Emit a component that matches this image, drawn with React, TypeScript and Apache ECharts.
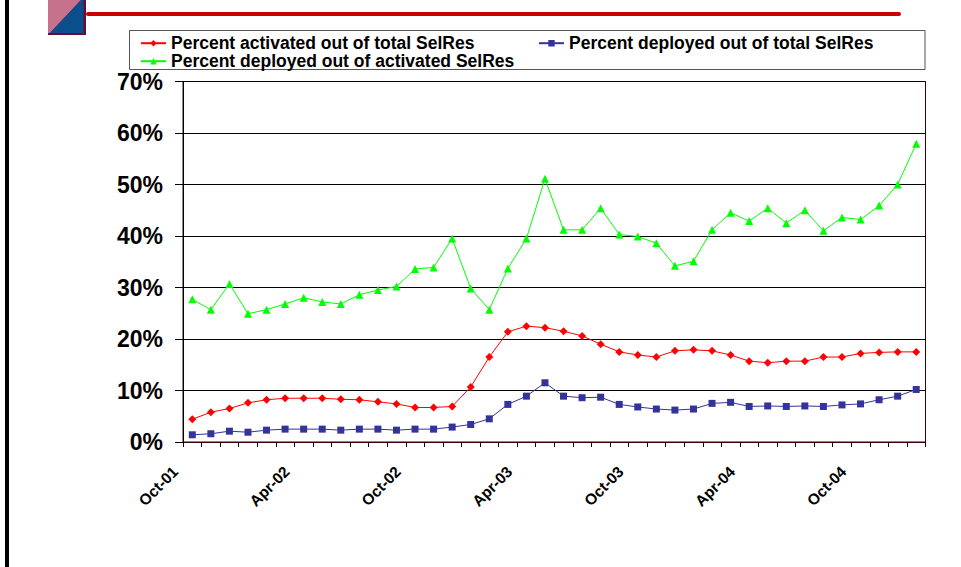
import React, { useEffect, useRef } from "react";
import * as echarts from "echarts";

const months = [
  "Oct-01", "Nov-01", "Dec-01", "Jan-02", "Feb-02", "Mar-02", "Apr-02", "May-02", "Jun-02", "Jul-02",
  "Aug-02", "Sep-02", "Oct-02", "Nov-02", "Dec-02", "Jan-03", "Feb-03", "Mar-03", "Apr-03", "May-03",
  "Jun-03", "Jul-03", "Aug-03", "Sep-03", "Oct-03", "Nov-03", "Dec-03", "Jan-04", "Feb-04", "Mar-04",
  "Apr-04", "May-04", "Jun-04", "Jul-04", "Aug-04", "Sep-04", "Oct-04", "Nov-04", "Dec-04", "Jan-05",
];

const activatedOfTotal = [
  4.4, 5.8, 6.5, 7.6, 8.2, 8.5, 8.5, 8.5, 8.3, 8.2,
  7.8, 7.4, 6.7, 6.7, 6.9, 10.7, 16.5, 21.4, 22.5, 22.2,
  21.5, 20.6, 19.0, 17.5, 16.9, 16.5, 17.7, 17.9, 17.7, 16.9,
  15.7, 15.4, 15.7, 15.7, 16.5, 16.5, 17.2, 17.4, 17.5, 17.5,
];

const deployedOfTotal = [
  1.4, 1.6, 2.1, 1.9, 2.3, 2.5, 2.5, 2.5, 2.3, 2.5,
  2.5, 2.3, 2.5, 2.5, 2.9, 3.4, 4.5, 7.3, 8.9, 11.5,
  8.9, 8.6, 8.7, 7.3, 6.8, 6.4, 6.2, 6.4, 7.5, 7.7,
  6.9, 7.0, 6.9, 7.0, 6.9, 7.2, 7.4, 8.2, 8.9, 10.2,
];

const deployedOfActivated = [
  27.7, 25.7, 30.7, 24.9, 25.7, 26.8, 28.0, 27.2, 26.8, 28.6,
  29.5, 30.2, 33.6, 33.9, 39.5, 29.8, 25.7, 33.7, 39.5, 51.1,
  41.2, 41.2, 45.4, 40.3, 39.9, 38.6, 34.2, 35.1, 41.2, 44.5,
  42.9, 45.4, 42.5, 45.0, 41.0, 43.6, 43.2, 45.9, 50.0, 57.9,
];

const yTicks = [0, 10, 20, 30, 40, 50, 60, 70];

const NAME_RED = "Percent activated out of total SelRes";
const NAME_BLUE = "Percent deployed out of total SelRes";
const NAME_GREEN = "Percent deployed out of activated SelRes";

const FONT = "'Liberation Sans', Arial, sans-serif";

export default function App() {
  const ref = useRef<HTMLDivElement>(null);

  useEffect(() => {
    if (!ref.current) return;
    const chart = echarts.init(ref.current, null, { renderer: "svg" });
    const legendText = {
      fontFamily: FONT,
      fontWeight: "bold",
      fontSize: 17.5,
      lineHeight: 15,
      color: "#000",
    };
    const legendCommon = {
      orient: "horizontal",
      padding: 0,
      itemWidth: 25,
      itemHeight: 8,
      itemGap: 5,
      textStyle: legendText,
      selectedMode: false,
    };
    chart.setOption({
      animation: false,
      backgroundColor: "#fff",
      grid: {
        left: 183,
        top: 81.5,
        right: 35.5,
        bottom: 125,
        show: true,
        borderColor: "#3a0000",
        borderWidth: 1,
      },
      legend: [
        { ...legendCommon, data: [NAME_RED], left: 140, top: 34.2 },
        { ...legendCommon, data: [NAME_BLUE], left: 538, top: 34.2 },
        { ...legendCommon, data: [NAME_GREEN], left: 140, top: 52.2 },
      ],
      xAxis: {
        type: "category",
        data: months,
        boundaryGap: true,
        axisLine: { show: true, lineStyle: { color: "#3a0000", width: 1 } },
        axisTick: { show: true, interval: 0, length: 5, lineStyle: { color: "#000" } },
        axisLabel: {
          interval: 5,
          rotate: 45,
          margin: 10,
          padding: [0, 24, 0, 0],
          fontFamily: FONT,
          fontWeight: "bold",
          fontSize: 15.5,
          color: "#000",
        },
        splitLine: { show: false },
      },
      yAxis: {
        type: "value",
        min: yTicks[0],
        max: yTicks[yTicks.length - 1],
        interval: 10,
        axisLine: { show: true, lineStyle: { color: "#000", width: 1 } },
        axisTick: { show: true, length: 8, lineStyle: { color: "#000" } },
        axisLabel: {
          formatter: "{value}%",
          margin: 20,
          fontFamily: FONT,
          fontWeight: "bold",
          fontSize: 23,
          color: "#000",
        },
        splitLine: { show: true, lineStyle: { color: "#000", width: 1 } },
      },
      series: [
        {
          name: NAME_RED,
          type: "line",
          data: activatedOfTotal,
          symbol: "diamond",
          symbolSize: 8,
          color: "#ff0000",
          lineStyle: { width: 1, color: "#ff0000" },
          itemStyle: { color: "#ff0000" },
        },
        {
          name: NAME_BLUE,
          type: "line",
          data: deployedOfTotal,
          symbol: "rect",
          symbolSize: 7,
          color: "#333399",
          lineStyle: { width: 1, color: "#333399" },
          itemStyle: { color: "#333399" },
        },
        {
          name: NAME_GREEN,
          type: "line",
          data: deployedOfActivated,
          symbol: "triangle",
          symbolSize: 8,
          color: "#00ff00",
          lineStyle: { width: 1, color: "#00ff00" },
          itemStyle: { color: "#00ff00" },
        },
      ],
      graphic: [
        { type: "rect", shape: { x: 5, y: 0, width: 4, height: 567 }, style: { fill: "#000" } },
        { type: "rect", shape: { x: 86, y: 12, width: 815, height: 4, r: 2 }, style: { fill: "#cc0000" } },
        { type: "rect", shape: { x: 48, y: 0, width: 38, height: 35 }, style: { fill: "#6b0a3a" } },
        {
          type: "polygon",
          shape: { points: [[48, 0], [81, 0], [50, 33], [48, 33]] },
          style: { fill: "#c7728c" },
        },
        {
          type: "polygon",
          shape: { points: [[50, 33], [83.5, 33], [83.5, 0], [81, 0]] },
          style: { fill: "#0b4e8c" },
        },
        {
          type: "rect",
          shape: { x: 129.5, y: 30.5, width: 795.5, height: 39 },
          style: { fill: "none", stroke: "#555", lineWidth: 1 },
        },
      ],
    });
    return () => chart.dispose();
  }, []);

  return (
    <div
      ref={ref}
      style={{ position: "fixed", left: 0, top: 0, width: 961, height: 567, background: "#fff" }}
    />
  );
}
